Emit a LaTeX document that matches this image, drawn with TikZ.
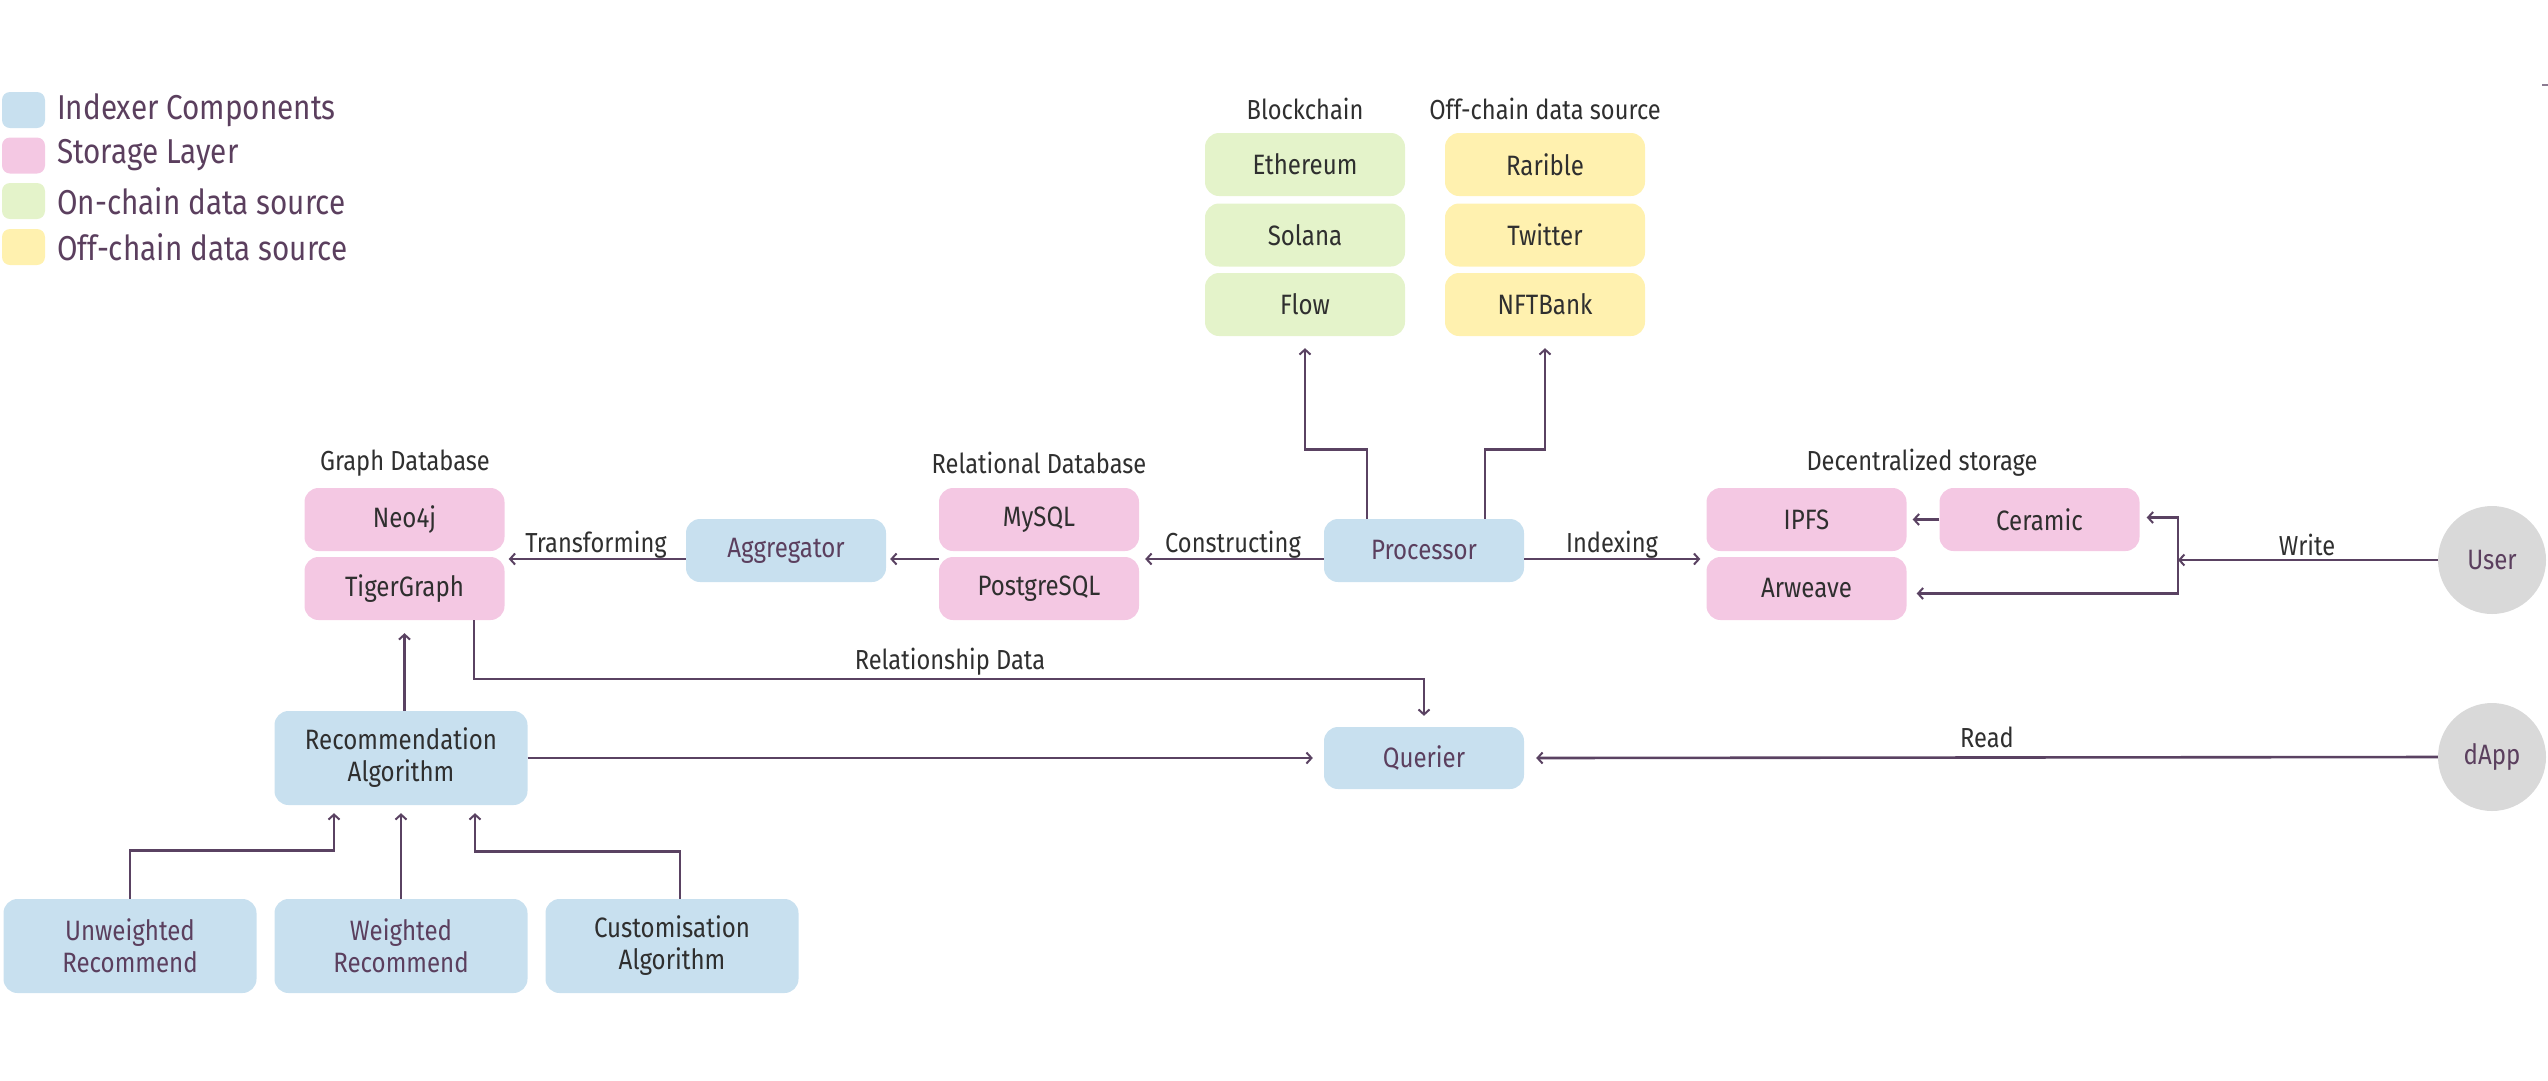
\documentclass[tikz,border=0pt]{standalone}
\usepackage{fontspec}
\setmainfont{Fira Sans}[FakeStretch=0.86]
\usetikzlibrary{arrows.meta,calc}
\definecolor{ibl}{HTML}{C8E0EF}
\definecolor{spk}{HTML}{F4C8E3}
\definecolor{ogr}{HTML}{E4F3CA}
\definecolor{fyl}{HTML}{FFF1AF}
\definecolor{cgr}{HTML}{D9D9D9}
\definecolor{tpu}{HTML}{5B3F5E}
\definecolor{tdk}{HTML}{2F2F2F}
\definecolor{lpu}{HTML}{5A4262}
\tikzset{
  box/.style={rounded corners=14pt, inner sep=0pt, minimum width=200pt, minimum height=63pt,
    font=\fontsize{28}{32}\selectfont, text=tdk, align=center},
  bigbox/.style={box, minimum width=253pt, minimum height=94pt},
  ind/.style={box, fill=ibl},
  sto/.style={box, fill=spk},
  onc/.style={box, fill=ogr},
  ofc/.style={box, fill=fyl},
  circ/.style={circle, fill=cgr, minimum size=108pt, inner sep=0pt, text=tpu, font=\fontsize{28}{32}\selectfont},
  lbl/.style={font=\fontsize{27.5}{31}\selectfont, text=tdk, inner sep=0pt},
  legsq/.style={rounded corners=8pt, minimum width=43pt, minimum height=36pt, inner sep=0pt},
  legtx/.style={anchor=west, font=\fontsize{34.5}{40}\selectfont, text=tpu, inner sep=0pt},
  arr/.style={draw=lpu, line width=2.6pt, -{Straight Barb[length=5pt,width=11pt,line width=2pt]}},
  ln/.style={draw=lpu, line width=2.6pt}
}
\begin{document}
\begin{tikzpicture}[x=1pt,y=-1pt]
\useasboundingbox (0,0) rectangle (2548,1080);

% legend
\node[legsq, fill=ibl] (lg1) at (23.5,110) {};
\node[legsq, fill=spk] (lg2) at (23.5,155.5) {};
\node[legsq, fill=ogr] (lg3) at (23.5,201) {};
\node[legsq, fill=fyl] (lg4) at (23.5,247) {};
\node[legtx] (lt1) at (57,110) {Indexer Components};
\node[legtx] (lt2) at (57,155.5) {Storage Layer};
\node[legtx] (lt3) at (57,201) {On-chain data source};
\node[legtx] (lt4) at (57,247) {Off-chain data source};

% sources
\node[lbl] (tbc) at (1305,109) {Blockchain};
\node[lbl] (tof) at (1545,109) {Off-chain data source};
\node[onc] (eth) at (1305,164.5) {Ethereum};
\node[onc] (sol) at (1305,235) {Solana};
\node[onc] (flow) at (1305,304.5) {Flow};
\node[ofc] (rar) at (1545,164.5) {Rarible};
\node[ofc] (twi) at (1545,235) {Twitter};
\node[ofc] (nft) at (1545,304.5) {NFTBank};

% middle row
\node[ind, text=tpu] (proc) at (1424,550.5) {Processor};
\node[lbl] (tds) at (1922,463) {Decentralized storage};
\node[sto] (ipfs) at (1806.5,519.5) {IPFS};
\node[sto] (arw) at (1806.5,588.5) {Arweave};
\node[sto] (cer) at (2039.5,519.5) {Ceramic};
\node[circ] (user) at (2492,560) {User};
\node[lbl] (twr) at (2307,545) {Write};
\node[lbl] (tix) at (1612,545) {Indexing};
\node[lbl] (tcs) at (1233,545) {Constructing};

\node[lbl] (trd) at (1039,463) {Relational Database};
\node[sto] (mys) at (1039,519.5) {MySQL};
\node[sto] (pg) at (1039,588.5) {PostgreSQL};
\node[ind, text=tpu] (agg) at (786,550.5) {Aggregator};
\node[lbl] (ttr) at (596,545) {Transforming};
\node[lbl] (tgd) at (405,463) {Graph Database};
\node[sto] (neo) at (404.5,519.5) {Neo4j};
\node[sto] (tg) at (404.5,588.5) {TigerGraph};

% lower
\node[lbl] (trel) at (950,662) {Relationship Data};
\node[ind, bigbox] (rec) at (401,758) {Recommendation\\Algorithm};
\node[ind, minimum height=62pt, text=tpu] (que) at (1424,758) {Querier};
\node[circ] (dapp) at (2492,757) {dApp};
\node[lbl] (tread) at (1987,737) {Read};
\node[ind, bigbox, text=tpu] (unw) at (130,946) {Unweighted\\Recommend};
\node[ind, bigbox, text=tpu] (wei) at (401,946) {Weighted\\Recommend};
\node[ind, bigbox] (cus) at (672,946) {Customisation\\Algorithm};

% connectors
\coordinate (ym) at (0,559);
\draw[arr] ([xshift=-57pt]proc.north) |- ([yshift=-113pt]flow.south) -- ([yshift=-12pt]flow.south);
\draw[arr] ([xshift=61pt]proc.north) |- ([yshift=-113pt]nft.south) -- ([yshift=-12pt]nft.south);
\draw[arr] (proc.west |- ym) -- ([xshift=6pt]pg.east |- ym);
\draw[arr] (proc.east |- ym) -- ([xshift=-6pt]ipfs.west |- ym);
\draw[arr] (mys.west |- ym) -- ([xshift=4pt]agg.east |- ym);
\draw[arr] (agg.west |- ym) -- ([xshift=4pt]tg.east |- ym);

\coordinate (wj) at (2178,560);
\draw[arr] (user.west) -- (wj);
\draw[arr] (wj) |- ([xshift=7pt,yshift=2pt]cer.east);
\draw[arr] (wj) |- ([xshift=10pt,yshift=-5pt]arw.east);
\draw[arr] (cer.west) -- ([xshift=6pt]ipfs.east);

\draw[arr] ([xshift=69.5pt]tg.south) |- ([yshift=48pt]que.north) -- ([yshift=11pt]que.north);
\draw[arr] (rec.north -| tg.south) -- ([yshift=-13pt]tg.south);
\draw[arr] (rec.east) -- ([xshift=-11pt]que.west);
\draw[arr] (dapp.west) -- ([xshift=12pt]que.east);

\draw[arr] (unw.north) |- ([xshift=-67pt,yshift=-45pt]rec.south) -- ([xshift=-67pt,yshift=-8pt]rec.south);
\draw[arr] (wei.north) -- ([yshift=-8pt]rec.south);
\draw[arr] ([xshift=8pt]cus.north) |- ([xshift=74pt,yshift=-46pt]rec.south) -- ([xshift=74pt,yshift=-8pt]rec.south);

% tiny mark at top right
\coordinate (mk1) at (2542,85);
\coordinate (mk2) at (2548,85);
\draw[draw=lpu!70, line width=2pt] (mk1) -- (mk2);
\end{tikzpicture}
\end{document}
